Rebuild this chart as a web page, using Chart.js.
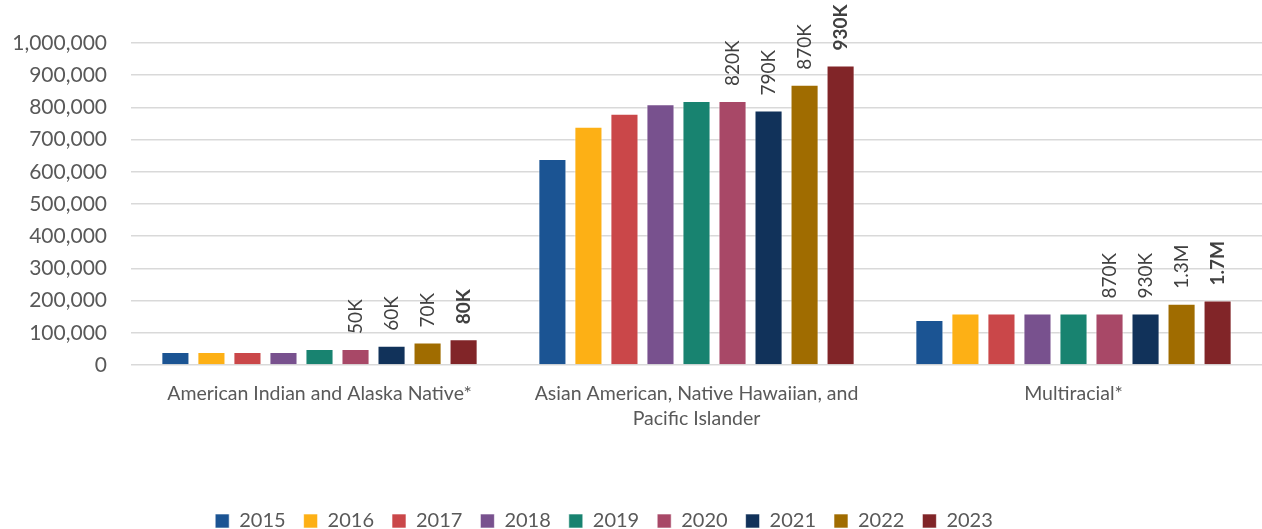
<!DOCTYPE html>
<html>
<head>
<meta charset="utf-8">
<script src="https://cdn.jsdelivr.net/npm/chart.js@4/dist/chart.umd.min.js"></script>
<style>
  html, body { margin: 0; padding: 0; background: #fff; }
  #wrap { width: 1262px; height: 529px; }
</style>
</head>
<body>
<div id="wrap"><canvas id="chart" width="1262" height="529"></canvas></div>
<script>
// Data
const categories = [
  'American Indian and Alaska Native*',
  ['Asian American, Native Hawaiian, and', 'Pacific Islander'],
  'Multiracial*',
];
const years = ['2015', '2016', '2017', '2018', '2019', '2020', '2021', '2022', '2023'];

// one value per year, per group
const aianValues = [40000, 40000, 40000, 40000, 50000, 50000, 60000, 70000, 80000];
const asianValues = [640000, 740000, 780000, 810000, 820000, 820000, 790000, 870000, 930000];
const multiValues = [140000, 160000, 160000, 160000, 160000, 160000, 160000, 190000, 200000];

// text shown above the bars (as printed on the chart)
const aianLabels = [null, null, null, null, null, '50K', '60K', '70K', '80K'];
const asianLabels = [null, null, null, null, null, '820K', '790K', '870K', '930K'];
const multiLabels = [null, null, null, null, null, '870K', '930K', '1.3M', '1.7M'];
const boldYear = '2023';

const yTicks = [0, 100000, 200000, 300000, 400000, 500000, 600000, 700000, 800000, 900000, 1000000];

// Colors
const COLORS = ['#1b5493', '#fdb015', '#ca4749', '#78518e', '#188370', '#a84867', '#11325a', '#a06c00', '#812528'];

const FONT = 'Lato, "Open Sans", sans-serif';

// Bar value labels, rotated
const barLabels = {
  id: 'barLabels',
  afterDatasetsDraw(chart) {
    const ctx = chart.ctx;
    const groups = [aianLabels, asianLabels, multiLabels];
    chart.data.datasets.forEach((ds, i) => {
      const meta = chart.getDatasetMeta(i);
      meta.data.forEach((bar, j) => {
        const text = groups[j][i];
        if (!text) return;
        ctx.save();
        ctx.translate(bar.x, bar.y - 15);
        ctx.rotate(-Math.PI / 2);
        ctx.font = (ds.label === boldYear ? 'bold ' : '') + '19px ' + FONT;
        ctx.fillStyle = '#404040';
        ctx.textAlign = 'left';
        ctx.textBaseline = 'middle';
        ctx.fillText(text, 0, 0);
        ctx.restore();
      });
    });
  },
};

// legend sits a little left of centre in the original
const legendShift = {
  id: 'legendShift',
  afterLayout(chart) {
    chart.legend.left -= 27;
    chart.legend.right -= 27;
  },
};

const datasets = years.map((y, i) => ({
  label: y,
  data: [aianValues[i], asianValues[i], multiValues[i]],
  backgroundColor: COLORS[i],
  borderColor: 'rgba(255,255,255,0.6)',
  borderWidth: 1,
  categoryPercentage: 0.86,
  barPercentage: 0.78,
}));

new Chart(document.getElementById('chart'), {
  type: 'bar',
  data: { labels: categories, datasets },
  plugins: [barLabels, legendShift],
  options: {
    responsive: false,
    animation: false,
    layout: { padding: { top: 43, right: 0, bottom: -12, left: 0 } },
    plugins: {
      tooltip: { enabled: false },
      legend: {
        position: 'bottom',
        labels: {
          boxWidth: 14,
          boxHeight: 14,
          padding: 18,
          color: '#595959',
          font: { family: FONT, size: 20 },
        },
      },
    },
    scales: {
      x: {
        grid: { display: false },
        border: { display: false },
        ticks: {
          color: '#595959',
          font: { family: FONT, size: 19.5, lineHeight: 1.3 },
          padding: 8,
          maxRotation: 0,
        },
        afterFit: (s) => { s.height = 128; },
      },
      y: {
        min: 0,
        max: 1000000,
        afterBuildTicks: (s) => { s.ticks = yTicks.map(v => ({ value: v })); },
        grid: { color: '#d9d9d9', lineWidth: 1.5, drawTicks: false },
        border: { display: false },
        ticks: {
          color: '#595959',
          font: { family: FONT, size: 21 },
          padding: 24,
          callback: (v) => v.toLocaleString('en-US'),
        },
        afterFit: (s) => { s.width = 131; },
      },
    },
  },
});
</script>
</body>
</html>
